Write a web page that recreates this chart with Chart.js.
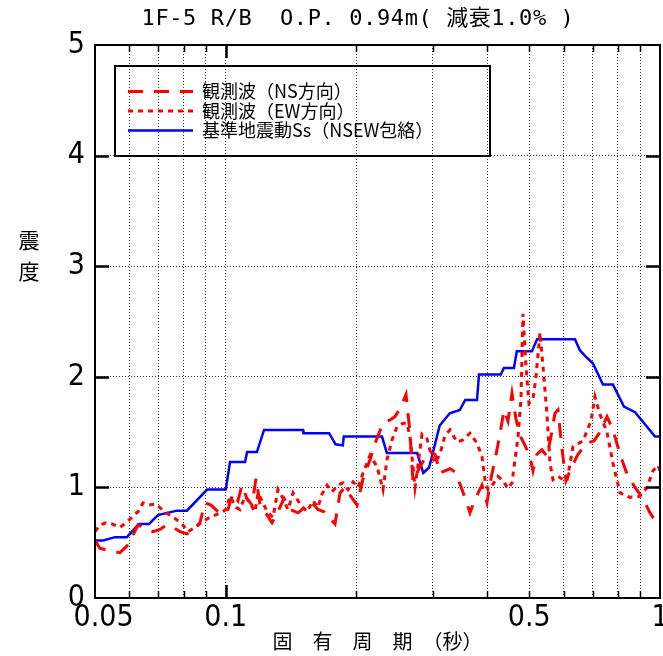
<!DOCTYPE html>
<html>
<head>
<meta charset="utf-8">
<script src="https://cdn.jsdelivr.net/npm/chart.js@4.4.1/dist/chart.umd.min.js"></script>
<style>
  html, body { margin: 0; padding: 0; background: #fff; }
  canvas { display: block; }
</style>
</head>
<body>
<canvas id="chart" width="663" height="656"></canvas>
<script>
// Period grid (s) for the log axis, and the labelled periods
const periodGrid = [0.05, 0.06, 0.07, 0.08, 0.09, 0.1, 0.2, 0.3, 0.4, 0.5, 0.6, 0.7, 0.8, 0.9, 1];
const periodTickValues = [0.05, 0.1, 0.5, 1];
const periodTickLabels = ['  0.05', '0.1', '0.5', '1'];
const intensityTicks = [0, 1, 2, 3, 4, 5];

// Observed wave, NS direction
const periodsNS = [0.0500,0.0513,0.0536,0.0571,0.0596,0.0628,0.0655,0.0680,0.0706,0.0729,0.0756,0.0785,0.0814,0.0850,0.0872,0.0896,0.0925,0.0960,0.0986,0.1012,0.1039,0.1067,0.1090,0.1119,0.1149,0.1174,0.1199,0.1231,0.1278,0.1319,0.1362,0.1406,0.1467,0.1522,0.1580,0.1631,0.1684,0.1738,0.1785,0.1833,0.1882,0.1933,0.2006,0.2071,0.2149,0.2218,0.2302,0.2389,0.2453,0.2519,0.2601,0.2656,0.2699,0.2771,0.2861,0.2954,0.3033,0.3114,0.3198,0.3284,0.3372,0.3463,0.3575,0.3651,0.3749,0.3891,0.3995,0.4081,0.4169,0.4280,0.4372,0.4466,0.4562,0.4659,0.4759,0.4887,0.5018,0.5099,0.5208,0.5348,0.5492,0.5610,0.5730,0.5822,0.5947,0.6074,0.6204,0.6473,0.6789,0.7046,0.7274,0.7550,0.7794,0.8088,0.8394,0.8758,0.9137,0.9483,0.9737,1.0000];
const valuesNS = [0.52,0.45,0.43,0.41,0.48,0.66,0.63,0.60,0.62,0.66,0.64,0.60,0.58,0.63,0.68,0.86,0.84,0.78,0.76,0.80,0.95,0.88,1.02,0.90,0.84,1.08,0.85,0.78,0.68,0.78,0.90,0.80,0.77,0.82,0.86,0.80,0.78,0.72,0.67,0.95,1.00,0.93,0.84,1.08,1.25,1.42,1.58,1.61,1.64,1.71,1.84,1.50,1.05,1.15,1.25,1.32,1.30,1.13,1.15,1.17,1.14,1.03,0.88,0.77,0.89,1.02,0.86,1.08,1.25,1.48,1.70,1.60,1.85,1.62,1.47,1.38,1.28,1.15,1.30,1.34,1.28,1.46,1.67,1.70,1.35,1.06,1.15,1.30,1.40,1.42,1.50,1.64,1.52,1.30,1.12,1.00,0.90,0.77,0.70,0.65];

// Observed wave, EW direction
const periodsEW = [0.0500,0.0513,0.0530,0.0547,0.0571,0.0589,0.0608,0.0628,0.0645,0.0666,0.0691,0.0713,0.0736,0.0764,0.0793,0.0819,0.0850,0.0877,0.0910,0.0945,0.0975,0.1001,0.1023,0.1056,0.1079,0.1108,0.1137,0.1168,0.1187,0.1212,0.1245,0.1285,0.1319,0.1355,0.1391,0.1429,0.1483,0.1539,0.1588,0.1631,0.1666,0.1711,0.1757,0.1813,0.1862,0.1912,0.1964,0.2016,0.2071,0.2149,0.2230,0.2302,0.2351,0.2415,0.2480,0.2560,0.2614,0.2656,0.2699,0.2728,0.2771,0.2831,0.2907,0.2969,0.3033,0.3114,0.3198,0.3284,0.3408,0.3518,0.3651,0.3789,0.3891,0.3953,0.4017,0.4125,0.4235,0.4349,0.4466,0.4562,0.4635,0.4709,0.4785,0.4836,0.4913,0.4992,0.5099,0.5181,0.5292,0.5376,0.5492,0.5580,0.5670,0.5822,0.5978,0.6107,0.6304,0.6647,0.6935,0.7083,0.7274,0.7550,0.7794,0.8088,0.8529,0.8993,0.9333,0.9635,0.9893,1.0000];
const valuesEW = [0.60,0.66,0.68,0.67,0.64,0.68,0.73,0.78,0.86,0.84,0.85,0.80,0.76,0.72,0.67,0.60,0.64,0.68,0.72,0.75,0.77,0.80,0.92,0.82,0.80,0.92,0.86,0.78,0.95,0.88,0.78,0.73,0.98,0.90,0.80,0.95,0.85,0.78,0.88,0.82,0.94,1.02,0.96,1.02,1.04,0.98,1.05,1.00,1.13,1.29,1.19,0.98,1.25,1.43,1.55,1.58,1.58,1.46,1.19,1.00,1.20,1.48,1.44,1.30,1.22,1.30,1.47,1.52,1.41,1.43,1.49,1.40,1.28,1.07,0.98,1.03,1.10,1.06,0.99,1.04,1.25,1.45,1.80,2.57,2.10,1.76,1.80,2.00,2.40,2.10,1.66,1.22,1.07,1.10,1.07,1.06,1.37,1.42,1.60,1.82,1.66,1.50,1.22,0.95,0.91,0.92,1.00,1.15,1.20,1.15];

// Design basis ground motion Ss (NS/EW envelope)
const periodsSs = [0.0500,0.0522,0.0556,0.0592,0.0631,0.0666,0.0698,0.0772,0.0814,0.0906,0.1000,0.1023,0.1108,0.1120,0.1180,0.1225,0.1507,0.1510,0.1730,0.1790,0.1860,0.1870,0.2290,0.2350,0.2760,0.2850,0.2940,0.3110,0.3280,0.3460,0.3560,0.3790,0.3830,0.4300,0.4370,0.4610,0.4680,0.5070,0.5210,0.6370,0.6540,0.6720,0.7010,0.7390,0.7790,0.8260,0.8760,0.9740,1.0000];
const valuesSs = [0.52,0.52,0.55,0.55,0.67,0.67,0.75,0.79,0.79,0.98,0.98,1.23,1.23,1.32,1.32,1.52,1.52,1.49,1.49,1.39,1.38,1.46,1.46,1.31,1.31,1.13,1.18,1.56,1.67,1.70,1.79,1.79,2.02,2.02,2.08,2.08,2.23,2.23,2.34,2.34,2.24,2.19,2.12,1.93,1.93,1.73,1.68,1.46,1.46];

const seriesLabels = ['観測波（NS方向）', '観測波（EW方向）', '基準地震動Ss（NSEW包絡）'];
const chartTitle = '1F-5 R/B  O.P. 0.94m( 減衰1.0% )';
const xAxisTitle = '固　有　周　期　（秒）';
const yAxisTitle = ['震', '度'];

const toPoints = (xs, ys) => xs.map((x, i) => ({ x, y: ys[i] }));
const tickFont = { family: "'Liberation Sans Narrow', 'DejaVu Sans Condensed', 'DejaVu Sans', sans-serif", size: 30 };
const cjkFont = "'Noto Sans CJK JP', sans-serif";

// Frame, inward tick marks, legend box, title and vertical y title
const decorations = {
  id: 'decorations',
  afterDraw(chart) {
    const { ctx, chartArea: { left, right, top, bottom }, scales: { x, y } } = chart;
    ctx.save();
    ctx.strokeStyle = '#000';
    ctx.lineCap = 'butt';

    periodGrid.forEach(v => {
      if (v === 0.05 || v === 1) return;
      const px = Math.round(x.getPixelForValue(v)) + 0.5;
      const major = v === 0.1;
      const len = major ? 13 : 7;
      ctx.lineWidth = major ? 2.5 : 1.5;
      ctx.beginPath();
      ctx.moveTo(px, bottom); ctx.lineTo(px, bottom - len);
      ctx.moveTo(px, top); ctx.lineTo(px, top + len);
      ctx.stroke();
    });
    intensityTicks.forEach(v => {
      if (v === 0 || v === 5) return;
      const py = Math.round(y.getPixelForValue(v)) + 0.5;
      ctx.lineWidth = 2.5;
      ctx.beginPath();
      ctx.moveTo(left, py); ctx.lineTo(left + 14, py);
      ctx.moveTo(right, py); ctx.lineTo(right - 14, py);
      ctx.stroke();
    });
    ctx.lineWidth = 2;
    ctx.strokeRect(left, top, right - left, bottom - top);

    // legend
    ctx.lineWidth = 2;
    ctx.strokeRect(115, 66, 375, 90);
    ctx.font = `18px ${cjkFont}`;
    ctx.textBaseline = 'middle';
    ctx.textAlign = 'left';
    ctx.fillStyle = '#000';
    chart.data.datasets.forEach((ds, i) => {
      const ly = 91.5 + i * 19.5;
      ctx.save();
      ctx.strokeStyle = ds.borderColor;
      ctx.lineWidth = ds.borderWidth;
      ctx.setLineDash(ds.borderDash || []);
      ctx.beginPath();
      ctx.moveTo(128, ly); ctx.lineTo(193, ly);
      ctx.stroke();
      ctx.restore();
      ctx.fillText(ds.label, 202, ly);
    });

    // title
    ctx.font = `22px 'DejaVu Sans Mono', ${cjkFont}`;
    ctx.textAlign = 'center';
    if ('letterSpacing' in ctx) ctx.letterSpacing = '0.6px';
    ctx.fillText(chartTitle, 358, 19);
    if ('letterSpacing' in ctx) ctx.letterSpacing = '0px';

    // y-axis title, upright characters stacked vertically
    ctx.font = `21px ${cjkFont}`;
    yAxisTitle.forEach((ch, i) => ctx.fillText(ch, 29, 240 + i * 31));
    ctx.restore();
  }
};

const edgeTransparent = (edges) => (c) => {
  const v = c.tick ? c.tick.value : null;
  return edges.includes(v) ? 'rgba(0,0,0,0)' : '#333';
};

new Chart(document.getElementById('chart'), {
  type: 'line',
  data: {
    datasets: [
      { label: seriesLabels[0], data: toPoints(periodsNS, valuesNS), borderColor: '#ff0000', borderWidth: 3, borderDash: [15, 11] },
      { label: seriesLabels[1], data: toPoints(periodsEW, valuesEW), borderColor: '#ff0000', borderWidth: 3, borderDash: [5, 5] },
      { label: seriesLabels[2], data: toPoints(periodsSs, valuesSs), borderColor: '#0000ff', borderWidth: 2.5, borderDash: [] }
    ]
  },
  options: {
    responsive: false,
    animation: false,
    devicePixelRatio: 1,
    layout: { padding: { top: 45, right: 3, bottom: 0, left: 0 } },
    elements: { point: { radius: 0 }, line: { tension: 0, fill: false } },
    plugins: { legend: { display: false }, title: { display: false }, tooltip: { enabled: false } },
    scales: {
      x: {
        type: 'logarithmic',
        min: 0.05,
        max: 1,
        afterBuildTicks: s => { s.ticks = periodGrid.map(v => ({ value: v })); },
        afterFit: s => { s.height = 58; s.paddingLeft = 0; s.paddingRight = 0; },
        ticks: {
          autoSkip: false, maxRotation: 0, minRotation: 0, padding: 2, color: '#000', font: tickFont,
          callback: (v) => {
            const i = periodTickValues.findIndex(t => Math.abs(t - v) < 1e-9);
            return i >= 0 ? periodTickLabels[i] : '';
          }
        },
        grid: { color: edgeTransparent([0.05, 1]), lineWidth: 1, drawTicks: false },
        border: { display: false, dash: [1, 2] },
        title: { display: true, text: xAxisTitle, color: '#000', font: { family: cjkFont, size: 20 }, padding: { top: 0, bottom: 3 } }
      },
      y: {
        min: 0,
        max: 5,
        afterBuildTicks: s => { s.ticks = intensityTicks.map(v => ({ value: v })); },
        afterFit: s => { s.width = 95; },
        ticks: { padding: 10, color: '#000', font: tickFont, callback: v => String(v) },
        grid: { color: edgeTransparent([0, 5]), lineWidth: 1, drawTicks: false },
        border: { display: false, dash: [1, 2] }
      }
    }
  },
  plugins: [decorations]
});
</script>
</body>
</html>
